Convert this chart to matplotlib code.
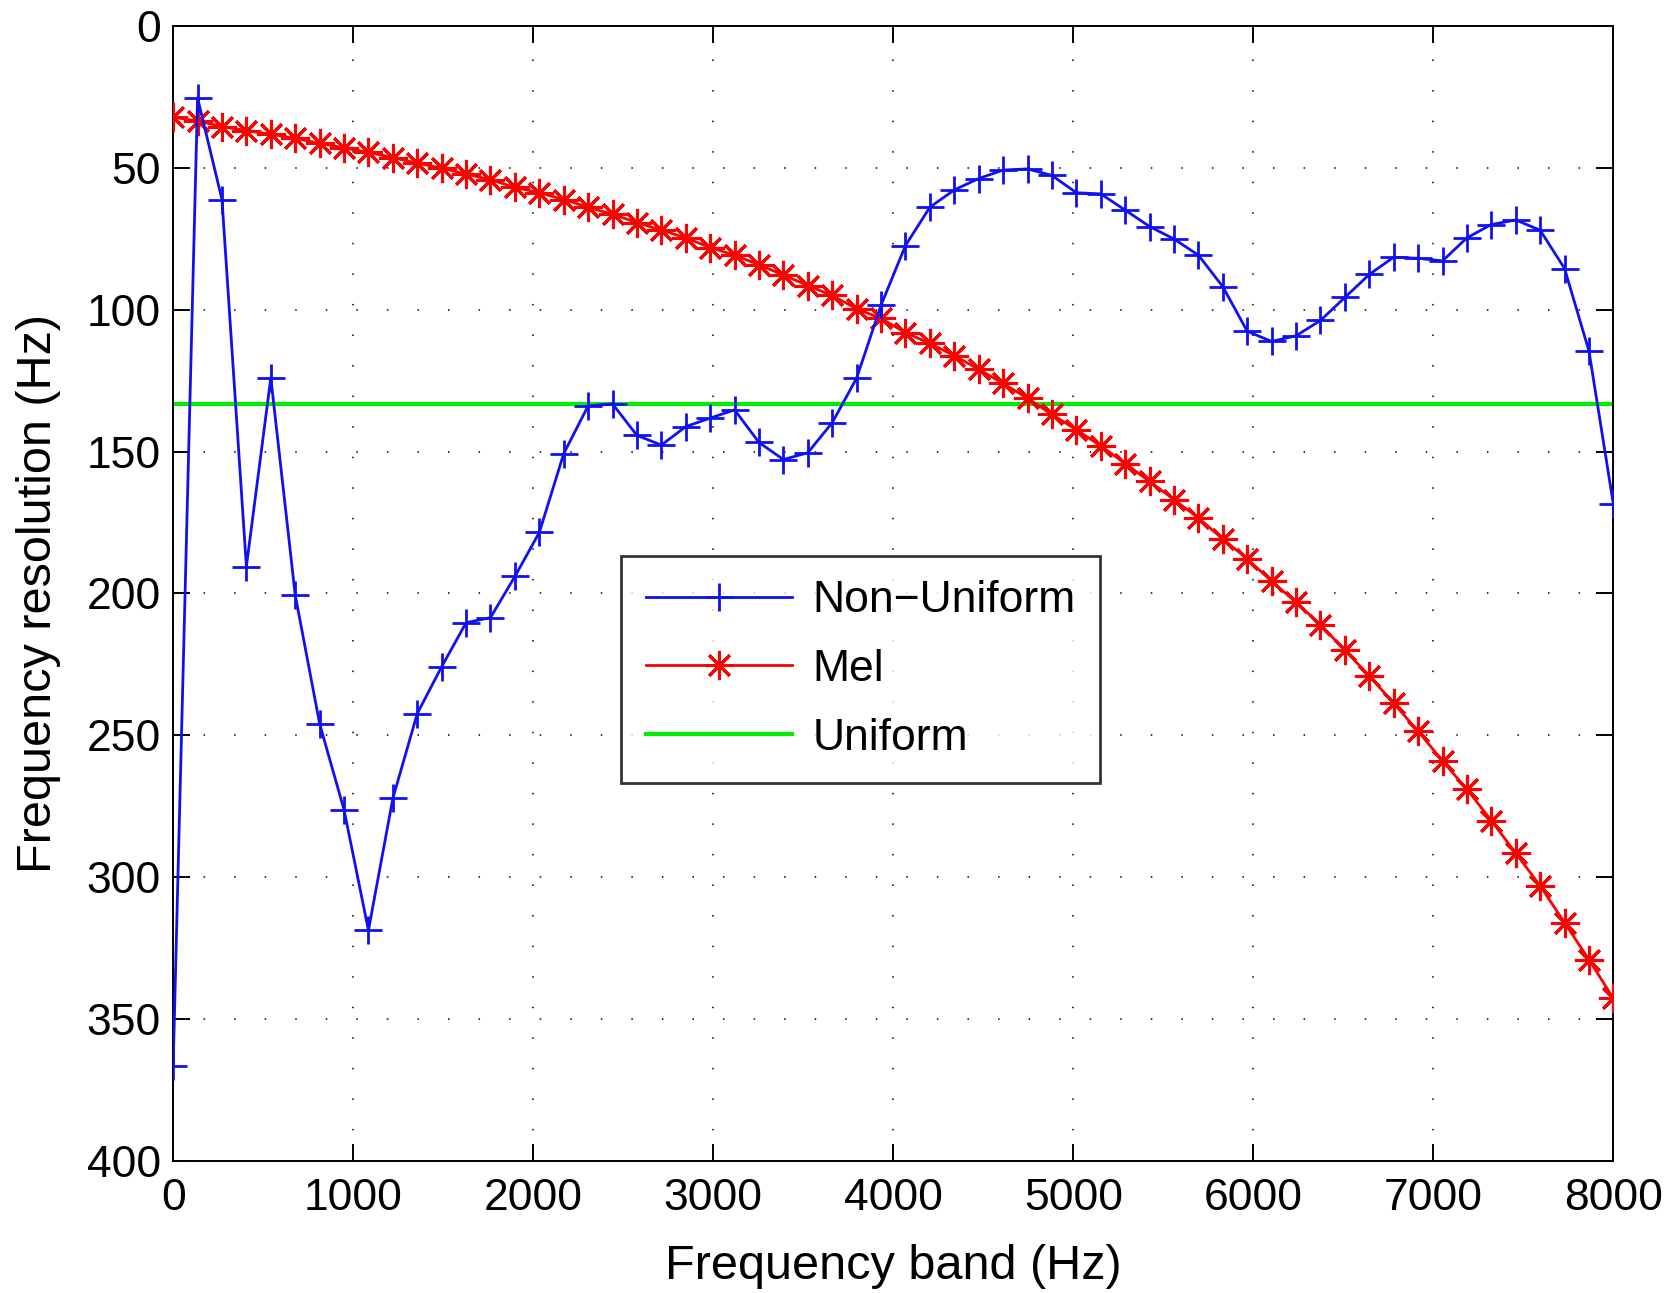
import numpy as np
import matplotlib.pyplot as plt

plt.rcParams['font.family'] = ['Liberation Sans', 'DejaVu Sans']

# band centres (Hz), 60 bands from 0 to 8000
freq = np.linspace(0, 8000, 60)

non_uniform = [366.5, 25.4, 61.2, 190.5, 124.0, 200.5, 245.9, 276.2, 318.7, 272.2,
               242.3, 225.8, 210.3, 208.5, 194.0, 178.5, 150.7, 133.9, 133.2, 144.3,
               147.7, 141.2, 138.2, 135.3, 146.8, 152.8, 150.4, 139.8, 124.1, 98.4,
               77.4, 63.9, 57.8, 53.8, 50.8, 50.4, 52.7, 58.8, 59.2, 64.9,
               70.7, 75.1, 80.8, 91.9, 107.6, 111.2, 109.2, 103.8, 95.7, 87.6,
               81.5, 81.9, 82.8, 74.7, 70.0, 68.4, 72.0, 85.5, 114.6, 168.6]

mel = [32.2, 33.5, 35.5, 36.9, 38.2, 39.6, 41.4, 43.0, 44.6, 46.4,
       48.4, 50.1, 52.2, 54.2, 56.9, 58.8, 61.2, 63.9, 66.4, 69.3,
       72.0, 74.7, 78.1, 80.8, 84.2, 87.8, 91.5, 95.0, 99.7, 103.1,
       108.1, 111.9, 116.2, 121.0, 126.0, 131.2, 136.9, 142.3, 148.0, 154.2,
       160.5, 166.9, 173.4, 180.8, 187.8, 195.7, 203.1, 211.0, 220.0, 229.0,
       238.7, 248.5, 259.0, 269.0, 280.0, 291.5, 303.0, 316.0, 329.0, 342.7]

uniform = [8000 / 60] * 2
uniform_x = [0, 8000]

fig = plt.figure(figsize=(16.65, 12.93), dpi=100)
ax = fig.add_axes([0.104, 0.102, 0.865, 0.878])

# MATLAB style asterisk: 8 spokes (+ and x together)
asterisk = (8, 2, 0)
ax.plot(freq, non_uniform, color='#1010f0', lw=2.0, marker='+', ms=20, mew=2.0,
        label='Non\u2212Uniform', zorder=4)
ax.plot(freq, mel, color='#ff0000', lw=2.0, marker=asterisk, ms=21, mew=2.2,
        label='Mel', zorder=3)
ax.plot(uniform_x, uniform, color='#00ee00', lw=3.0, label='Uniform', zorder=2)

ax.set_xlim(0, 8000)
ax.set_ylim(400, 0)
ax.set_xticks(np.arange(0, 8001, 1000))
ax.set_yticks(np.arange(0, 401, 50))

ax.grid(True, color='black', lw=1.1, linestyle=(0, (1, 19)))
ax.tick_params(direction='in', length=12, width=1.4, top=True, right=True,
               labelsize=32)
ax.tick_params(axis='x', pad=12)
ax.tick_params(axis='y', pad=9)
for s in ax.spines.values():
    s.set_linewidth(1.4)

ax.set_xlabel('Frequency band (Hz)', fontsize=35, labelpad=18)
ax.set_ylabel('Frequency resolution (Hz)', fontsize=35, labelpad=18)

leg = ax.legend(loc='upper left', bbox_to_anchor=(0.311, 0.533), fontsize=32,
                handlelength=3.3, frameon=True, fancybox=False, edgecolor='black',
                borderpad=0.55, labelspacing=0.62, handletextpad=0.45,
                borderaxespad=0)
leg.get_frame().set_linewidth(2.0)

fig.savefig('out.png', dpi=100)
